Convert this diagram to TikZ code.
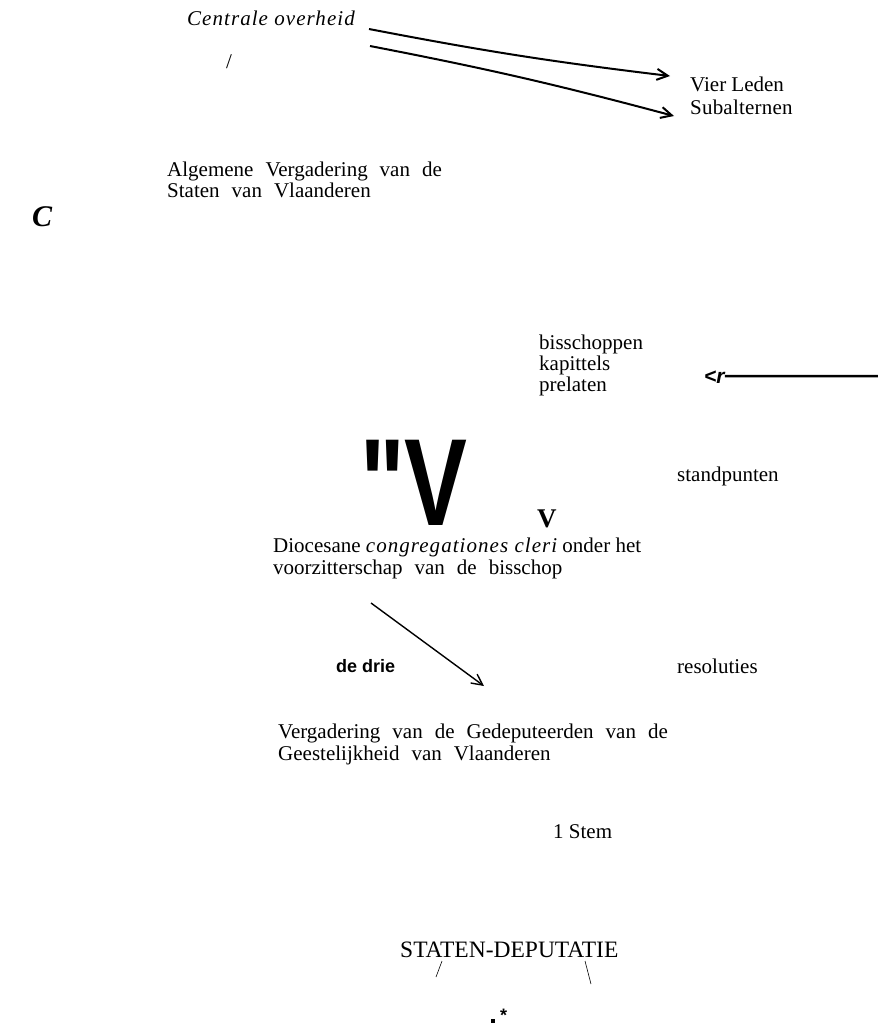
\documentclass[tikz,border=0pt]{standalone}
\usepackage{fontspec}
\setmainfont{Liberation Serif}
\newfontfamily\arialf{Liberation Sans}
\usetikzlibrary{arrows.meta}
\newcommand\wsp{\spaceskip=12pt plus 2pt\relax}
\newcommand\spit[1]{{\itshape\addfontfeature{LetterSpace=5}#1}}
\begin{document}
\begin{tikzpicture}[x=1pt,y=-1pt,
  txt/.style={anchor=base west,inner sep=0pt,font=\fontsize{21}{21}\selectfont},
  hand/.style={line width=2pt,-{Straight Barb[length=11pt,width=11pt,line width=2pt]}},
  thin/.style={line width=1.4pt,-{Straight Barb[length=11pt,width=11pt,line width=1.4pt]}}]
\useasboundingbox (0,0) rectangle (878,1026);
% top
\node[txt] (co) at (187,25) {\spit{Centrale overheid}};
\node[txt] (sl1) at (226,68) {/};
\node[txt] (vl) at (690,91) {Vier Leden};
\node[txt] (sub) at (690,114) {\addfontfeature{LetterSpace=1}Subalternen};
\coordinate (a1s) at (369,29);
\coordinate (a1e) at (670,76);
\coordinate (a2s) at (370,46);
\coordinate (a2e) at (674,116);
\draw[hand] (a1s) to[bend right=2] (a1e);
\draw[hand] (a2s) to[bend left=2] (a2e);
% C and Algemene
\node[anchor=base west,inner sep=0pt,font=\bfseries\itshape\fontsize{30}{30}\selectfont] (c) at (32,226) {C};
\node[txt] (alg1) at (167,176) {\wsp Algemene Vergadering van de};
\node[txt] (alg2) at (167,197) {\wsp Staten van Vlaanderen};
% bisschoppen
\node[txt] (bis) at (539,349) {bisschoppen};
\node[txt] (kap) at (539,370) {kapittels};
\node[txt] (pre) at (539,391) {prelaten};
\node[anchor=base west,inner sep=0pt,font=\arialf\bfseries\itshape\fontsize{21}{21}\selectfont] (r) at (704,383) {<r};
\coordinate (rend) at (878,376);
\draw[line width=2.5pt] ([yshift=0.5pt]r.east) -- (rend);
% big V
\node[anchor=base west,inner sep=0pt,text depth=0pt,font=\arialf\bfseries\fontsize{124}{124}\selectfont] (bigv) at (360,525) {\scalebox{0.76}[1]{"V}};
\node[anchor=base west,inner sep=0pt,font=\bfseries\fontsize{27}{27}\selectfont] (smv) at (537,527) {V};
\node[txt] (sta) at (677,481) {standpunten};
% Diocesane
\node[txt] (dio1) at (273,552) {Diocesane \spit{congregationes cleri} onder het};
\node[txt] (dio2) at (273,574) {\wsp voorzitterschap van de bisschop};
\node[anchor=base west,inner sep=0pt,font=\arialf\bfseries\fontsize{18}{18}\selectfont] (drie) at (336,672) {de drie};
\node[txt] (res) at (677,673) {resoluties};
\node[txt] (verg1) at (278,738) {\wsp Vergadering van de Gedeputeerden van de};
\node[txt] (verg2) at (278,760) {\wsp Geestelijkheid van Vlaanderen};
\coordinate (d1) at (371,603);
\coordinate (d2) at (484,686);
\draw[thin] (d1) -- (d2);
\node[txt] (stem) at (553,838) {1 Stem};
\node[txt,font=\fontsize{23.5}{23.5}\selectfont] (sd) at (400,957) {STATEN-DEPUTATIE};
\coordinate (s1a) at (442,961);
\coordinate (s1b) at (436,977);
\coordinate (s2a) at (585,961);
\coordinate (s2b) at (591,984);
\draw[line width=0.6pt] (s1a) -- (s1b);
\draw[line width=0.6pt] (s2a) -- (s2b);
\node[anchor=center,inner sep=0pt,minimum size=4.5pt,fill=black] (dot) at (493,1021) {};
\node[anchor=base west,inner sep=0pt,font=\arialf\bfseries\fontsize{18}{18}\selectfont] (ast) at (500,1021) {*};
\end{tikzpicture}
\end{document}
